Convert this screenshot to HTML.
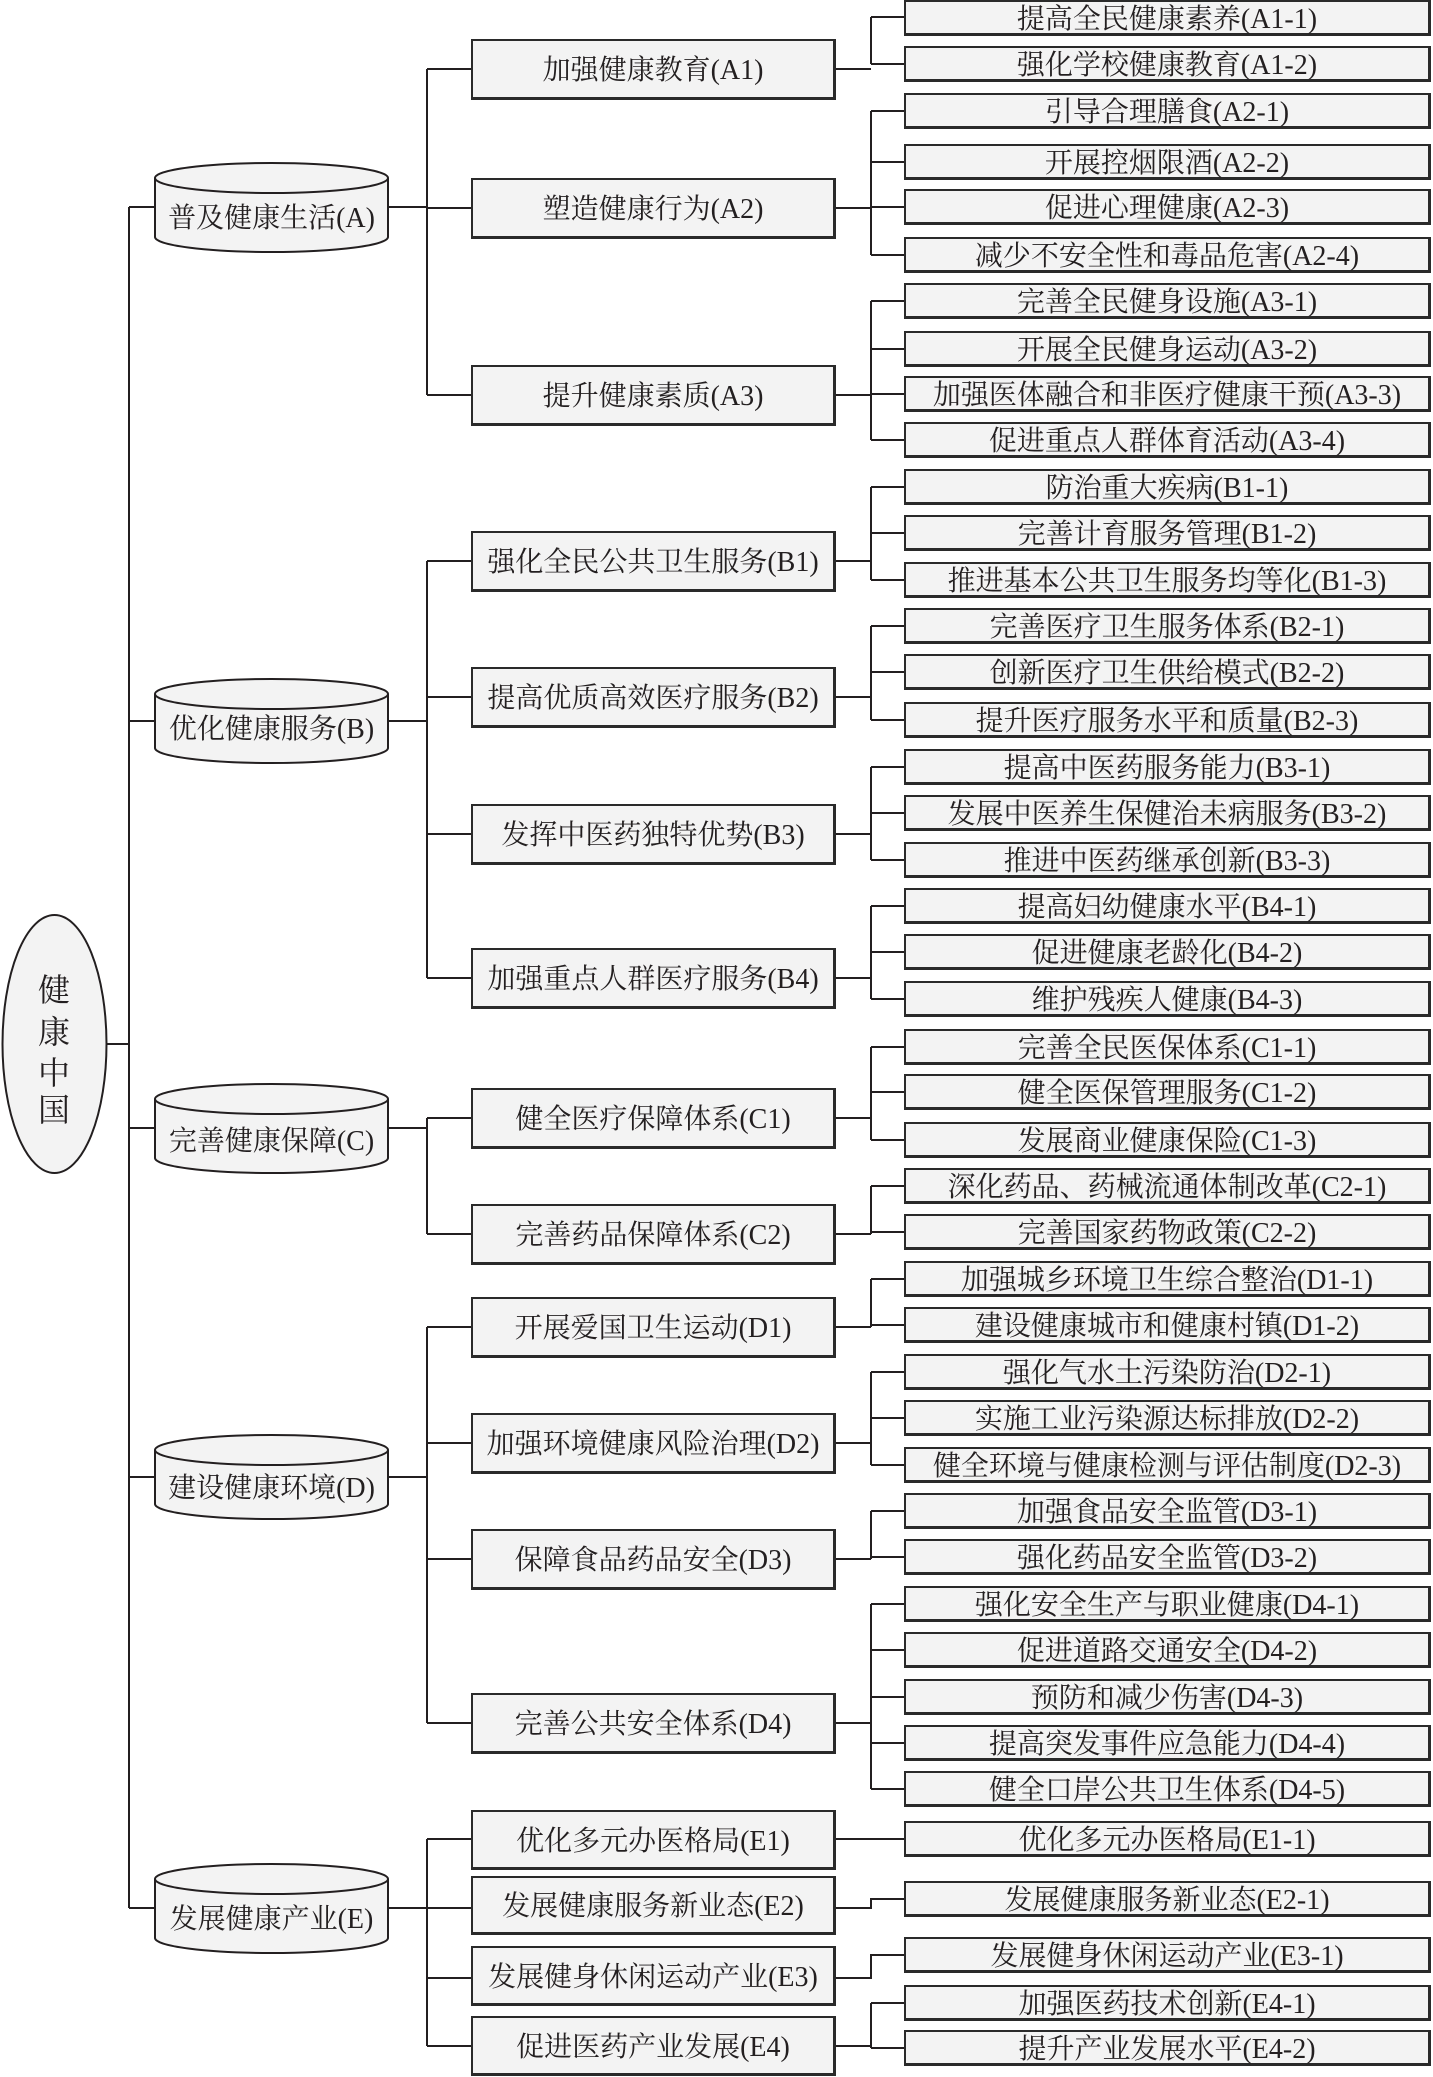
<!DOCTYPE html>
<html><head><meta charset="utf-8">
<style>
html,body{margin:0;padding:0;background:#fff;}
body{width:1433px;height:2077px;position:relative;overflow:hidden;font-family:"Liberation Serif","Noto Serif CJK SC","Noto Sans CJK SC",serif;color:#231f20;}
.b{position:absolute;box-sizing:border-box;background:#f3f3f3;border:2px solid #2a2a2a;border-bottom-width:3px;border-right-width:3px;display:flex;align-items:center;justify-content:center;font-size:28px;white-space:nowrap;line-height:1;padding-top:4px;}
.m{left:471px;width:365px;height:61px;}
.l{left:904px;width:527px;height:36px;}
.c{position:absolute;left:155px;width:233px;text-align:center;font-size:28px;white-space:nowrap;line-height:1;}
svg{position:absolute;left:0;top:0;}
.r{position:absolute;left:38px;width:32px;font-size:32px;line-height:1;text-align:center;}
</style></head><body>
<svg width="1433" height="2077" viewBox="0 0 1433 2077">
<g stroke="#231f20" stroke-width="2" fill="none">
<line x1="106" y1="1044" x2="129" y2="1044"/>
<line x1="129" y1="207" x2="129" y2="1908"/>
<line x1="129" y1="207" x2="155" y2="207"/>
<line x1="129" y1="721" x2="155" y2="721"/>
<line x1="129" y1="1128" x2="155" y2="1128"/>
<line x1="129" y1="1477" x2="155" y2="1477"/>
<line x1="129" y1="1908" x2="155" y2="1908"/>
<line x1="388" y1="207" x2="427" y2="207"/><line x1="427" y1="69" x2="427" y2="395"/>
<line x1="427" y1="69" x2="471" y2="69"/><line x1="427" y1="208" x2="471" y2="208"/><line x1="427" y1="395" x2="471" y2="395"/>
<line x1="388" y1="721" x2="427" y2="721"/><line x1="427" y1="561" x2="427" y2="978"/>
<line x1="427" y1="561" x2="471" y2="561"/><line x1="427" y1="697" x2="471" y2="697"/><line x1="427" y1="834" x2="471" y2="834"/><line x1="427" y1="978" x2="471" y2="978"/>
<line x1="388" y1="1128" x2="427" y2="1128"/><line x1="427" y1="1118" x2="427" y2="1234"/>
<line x1="427" y1="1118" x2="471" y2="1118"/><line x1="427" y1="1234" x2="471" y2="1234"/>
<line x1="388" y1="1477" x2="427" y2="1477"/><line x1="427" y1="1327" x2="427" y2="1723"/>
<line x1="427" y1="1327" x2="471" y2="1327"/><line x1="427" y1="1443" x2="471" y2="1443"/><line x1="427" y1="1559" x2="471" y2="1559"/><line x1="427" y1="1723" x2="471" y2="1723"/>
<line x1="388" y1="1908" x2="427" y2="1908"/><line x1="427" y1="1839" x2="427" y2="2046"/>
<line x1="427" y1="1839" x2="471" y2="1839"/><line x1="427" y1="1908" x2="471" y2="1908"/><line x1="427" y1="1978" x2="471" y2="1978"/><line x1="427" y1="2046" x2="471" y2="2046"/>
<path d="M836 69H871M871 17V64M871 17H904M871 64H904"/>
<path d="M836 208H871M871 111V255M871 111H904M871 162H904M871 207H904M871 255H904"/>
<path d="M836 395H871M871 301V440M871 301H904M871 349H904M871 394H904M871 440H904"/>
<path d="M836 561H871M871 487V580M871 487H904M871 533H904M871 580H904"/>
<path d="M836 697H871M871 626V720M871 626H904M871 672H904M871 720H904"/>
<path d="M836 834H871M871 767V860M871 767H904M871 813H904M871 860H904"/>
<path d="M836 978H871M871 906V999M871 906H904M871 952H904M871 999H904"/>
<path d="M836 1118H871M871 1047V1140M871 1047H904M871 1092H904M871 1140H904"/>
<path d="M836 1234H871M871 1186V1234M871 1186H904M871 1232H904"/>
<path d="M836 1327H871M871 1279V1327M871 1279H904M871 1325H904"/>
<path d="M836 1443H871M871 1372V1465M871 1372H904M871 1418H904M871 1465H904"/>
<path d="M836 1559H871M871 1511V1559M871 1511H904M871 1557H904"/>
<path d="M836 1723H871M871 1604V1789M871 1604H904M871 1650H904M871 1697H904M871 1743H904M871 1789H904"/>
<path d="M836 1839H904"/>
<path d="M836 1908H871V1899H904"/>
<path d="M836 1978H871V1955H904"/>
<path d="M836 2046H871M871 2003V2048M871 2003H904M871 2048H904"/>
</g>
<ellipse cx="54.5" cy="1044" rx="52" ry="129" fill="#f3f3f3" stroke="#231f20" stroke-width="2"/>
<g fill="#f3f3f3" stroke="#231f20" stroke-width="2">
<path d="M155 178V237A116.5 15 0 0 0 388 237V178"/><ellipse cx="271.5" cy="178" rx="116.5" ry="15"/>
<path d="M155 694V748A116.5 15 0 0 0 388 748V694"/><ellipse cx="271.5" cy="694" rx="116.5" ry="15"/>
<path d="M155 1099V1158A116.5 15 0 0 0 388 1158V1099"/><ellipse cx="271.5" cy="1099" rx="116.5" ry="15"/>
<path d="M155 1450V1504A116.5 15 0 0 0 388 1504V1450"/><ellipse cx="271.5" cy="1450" rx="116.5" ry="15"/>
<path d="M155 1879V1938A116.5 15 0 0 0 388 1938V1879"/><ellipse cx="271.5" cy="1879" rx="116.5" ry="15"/>
</g>
</svg>
<div class="r" style="top:974px">健</div>
<div class="r" style="top:1016px">康</div>
<div class="r" style="top:1057px">中</div>
<div class="r" style="top:1094px">国</div>

<div class="c" style="top:205px">普及健康生活(A)</div>
<div class="c" style="top:716px">优化健康服务(B)</div>
<div class="c" style="top:1128px">完善健康保障(C)</div>
<div class="c" style="top:1475px">建设健康环境(D)</div>
<div class="c" style="top:1906px">发展健康产业(E)</div>

<div class="b m" style="top:39px">加强健康教育(A1)</div>
<div class="b m" style="top:178px">塑造健康行为(A2)</div>
<div class="b m" style="top:365px">提升健康素质(A3)</div>
<div class="b m" style="top:531px">强化全民公共卫生服务(B1)</div>
<div class="b m" style="top:667px">提高优质高效医疗服务(B2)</div>
<div class="b m" style="top:804px">发挥中医药独特优势(B3)</div>
<div class="b m" style="top:948px">加强重点人群医疗服务(B4)</div>
<div class="b m" style="top:1088px">健全医疗保障体系(C1)</div>
<div class="b m" style="top:1204px">完善药品保障体系(C2)</div>
<div class="b m" style="top:1297px">开展爱国卫生运动(D1)</div>
<div class="b m" style="top:1413px">加强环境健康风险治理(D2)</div>
<div class="b m" style="top:1529px">保障食品药品安全(D3)</div>
<div class="b m" style="top:1693px">完善公共安全体系(D4)</div>
<div class="b m" style="top:1810px;height:60px">优化多元办医格局(E1)</div>
<div class="b m" style="top:1876px;height:59px">发展健康服务新业态(E2)</div>
<div class="b m" style="top:1946px;height:60px">发展健身休闲运动产业(E3)</div>
<div class="b m" style="top:2016px;height:60px">促进医药产业发展(E4)</div>

<div class="b l" style="top:0px">提高全民健康素养(A1-1)</div>
<div class="b l" style="top:46px">强化学校健康教育(A1-2)</div>
<div class="b l" style="top:93px">引导合理膳食(A2-1)</div>
<div class="b l" style="top:144px">开展控烟限酒(A2-2)</div>
<div class="b l" style="top:189px">促进心理健康(A2-3)</div>
<div class="b l" style="top:237px">减少不安全性和毒品危害(A2-4)</div>
<div class="b l" style="top:283px">完善全民健身设施(A3-1)</div>
<div class="b l" style="top:331px">开展全民健身运动(A3-2)</div>
<div class="b l" style="top:376px">加强医体融合和非医疗健康干预(A3-3)</div>
<div class="b l" style="top:422px">促进重点人群体育活动(A3-4)</div>
<div class="b l" style="top:469px">防治重大疾病(B1-1)</div>
<div class="b l" style="top:515px">完善计育服务管理(B1-2)</div>
<div class="b l" style="top:562px">推进基本公共卫生服务均等化(B1-3)</div>
<div class="b l" style="top:608px">完善医疗卫生服务体系(B2-1)</div>
<div class="b l" style="top:654px">创新医疗卫生供给模式(B2-2)</div>
<div class="b l" style="top:702px">提升医疗服务水平和质量(B2-3)</div>
<div class="b l" style="top:749px">提高中医药服务能力(B3-1)</div>
<div class="b l" style="top:795px">发展中医养生保健治未病服务(B3-2)</div>
<div class="b l" style="top:842px">推进中医药继承创新(B3-3)</div>
<div class="b l" style="top:888px">提高妇幼健康水平(B4-1)</div>
<div class="b l" style="top:934px">促进健康老龄化(B4-2)</div>
<div class="b l" style="top:981px">维护残疾人健康(B4-3)</div>
<div class="b l" style="top:1029px">完善全民医保体系(C1-1)</div>
<div class="b l" style="top:1074px">健全医保管理服务(C1-2)</div>
<div class="b l" style="top:1122px">发展商业健康保险(C1-3)</div>
<div class="b l" style="top:1168px">深化药品、药械流通体制改革(C2-1)</div>
<div class="b l" style="top:1214px">完善国家药物政策(C2-2)</div>
<div class="b l" style="top:1261px">加强城乡环境卫生综合整治(D1-1)</div>
<div class="b l" style="top:1307px">建设健康城市和健康村镇(D1-2)</div>
<div class="b l" style="top:1354px">强化气水土污染防治(D2-1)</div>
<div class="b l" style="top:1400px">实施工业污染源达标排放(D2-2)</div>
<div class="b l" style="top:1447px">健全环境与健康检测与评估制度(D2-3)</div>
<div class="b l" style="top:1493px">加强食品安全监管(D3-1)</div>
<div class="b l" style="top:1539px">强化药品安全监管(D3-2)</div>
<div class="b l" style="top:1586px">强化安全生产与职业健康(D4-1)</div>
<div class="b l" style="top:1632px">促进道路交通安全(D4-2)</div>
<div class="b l" style="top:1679px">预防和减少伤害(D4-3)</div>
<div class="b l" style="top:1725px">提高突发事件应急能力(D4-4)</div>
<div class="b l" style="top:1771px">健全口岸公共卫生体系(D4-5)</div>
<div class="b l" style="top:1821px">优化多元办医格局(E1-1)</div>
<div class="b l" style="top:1881px">发展健康服务新业态(E2-1)</div>
<div class="b l" style="top:1937px">发展健身休闲运动产业(E3-1)</div>
<div class="b l" style="top:1985px">加强医药技术创新(E4-1)</div>
<div class="b l" style="top:2030px">提升产业发展水平(E4-2)</div>
</body></html>
